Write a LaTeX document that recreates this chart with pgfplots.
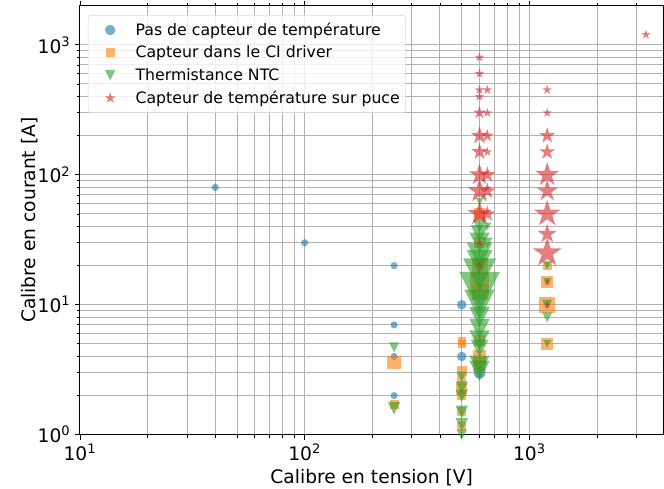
\documentclass[border=0pt]{standalone}
\usepackage{fontspec}
\setmainfont{DejaVu Sans}
\usepackage{pgfplots}
\pgfplotsset{compat=1.18}
\definecolor{c1}{HTML}{1F77B4}
\definecolor{c2}{HTML}{FF7F0E}
\definecolor{c3}{HTML}{2CA02C}
\definecolor{c4}{HTML}{D62728}
\definecolor{gridc}{rgb}{0.70,0.70,0.70}
\pgfdeclareplotmark{mcirc}{\pgfpathcircle{\pgfpointorigin}{\pgfplotmarksize}\pgfusepathqfill}
\pgfdeclareplotmark{msq}{\pgfpathrectangle{\pgfqpoint{-\pgfplotmarksize}{-\pgfplotmarksize}}{\pgfqpoint{2\pgfplotmarksize}{2\pgfplotmarksize}}\pgfusepathqfill}
\pgfdeclareplotmark{mtri}{\pgfpathmoveto{\pgfqpoint{0pt}{-\pgfplotmarksize}}\pgfpathlineto{\pgfqpoint{-\pgfplotmarksize}{\pgfplotmarksize}}\pgfpathlineto{\pgfqpoint{\pgfplotmarksize}{\pgfplotmarksize}}\pgfpathclose\pgfusepathqfill}
\pgfdeclareplotmark{mstar}{%
  \pgfpathmoveto{\pgfpointpolar{90}{\pgfplotmarksize}}%
  \pgfpathlineto{\pgfpointpolar{126}{0.382\pgfplotmarksize}}%
  \pgfpathlineto{\pgfpointpolar{162}{\pgfplotmarksize}}%
  \pgfpathlineto{\pgfpointpolar{198}{0.382\pgfplotmarksize}}%
  \pgfpathlineto{\pgfpointpolar{234}{\pgfplotmarksize}}%
  \pgfpathlineto{\pgfpointpolar{270}{0.382\pgfplotmarksize}}%
  \pgfpathlineto{\pgfpointpolar{306}{\pgfplotmarksize}}%
  \pgfpathlineto{\pgfpointpolar{342}{0.382\pgfplotmarksize}}%
  \pgfpathlineto{\pgfpointpolar{18}{\pgfplotmarksize}}%
  \pgfpathlineto{\pgfpointpolar{54}{0.382\pgfplotmarksize}}%
  \pgfpathclose\pgfusepathqfill}
\pgfplotsset{
  bub/.style n args={3}{only marks, scatter, forget plot, mark=#1,
    point meta={\thisrow{r}},
    visualization depends on={#3*\thisrow{r} \as \rr},
    scatter/use mapped color={draw=#2, fill=#2, fill opacity=0.6, draw opacity=0.6},
    scatter/@pre marker code/.append style={/tikz/mark size=\rr pt},
  },
}
\begin{document}
\begin{tikzpicture}
\begin{axis}[
  at={(0,0)}, anchor=south west,
  xmode=log, ymode=log,
  scale only axis, width=438pt, height=322pt,
  xmin=10, xmax=3950, ymin=1, ymax=2000,
  xtick={10,100,1000},
  xticklabels={10\textsuperscript{1},10\textsuperscript{2},10\textsuperscript{3}},
  ytick={1,10,100,1000},
  yticklabels={10\textsuperscript{0},10\textsuperscript{1},10\textsuperscript{2},10\textsuperscript{3}},
  minor xtick={20,30,40,50,60,70,80,90,200,300,400,500,600,700,800,900,2000,3000},
  minor ytick={2,3,4,5,6,7,8,9,20,30,40,50,60,70,80,90,200,300,400,500,600,700,800,900},
  grid=both,
  major grid style={gridc, line width=0.75pt},
  minor grid style={gridc, line width=0.75pt},
  tick align=outside,
  major tick length=3.6pt, minor tick length=2.1pt,
  tick style={black, line width=0.6pt},
  axis line style={black, line width=0.8pt},
  ticklabel style={font=\fontsize{14}{16}\selectfont},
  label style={font=\fontsize{14}{17}\selectfont},
  xlabel={Calibre en tension [V]},
  ylabel={Calibre en courant [A]},
  xlabel style={at={(axis description cs:0.5,-0.0994)}, anchor=center},
  ylabel style={at={(axis description cs:-0.0858,0.5)}, anchor=center},
  legend cell align=left,
  legend image code/.code={\path[draw=none,fill=none,sharp corners] (0cm,-0.1cm) rectangle (1.1cm,0.1cm); \draw[#1] plot coordinates {(0.5cm,0cm)};},
  legend style={at={(axis description cs:0.0137,0.978)}, anchor=north west, draw=gray!30, rounded corners=2pt,
    fill=white, fill opacity=0.8, text opacity=1, inner xsep=2.3pt, inner ysep=3.5pt,
    row sep=2.4pt, font=\fontsize{11.8}{14}\selectfont},
]
\addlegendimage{only marks, mark=mcirc, mark size=3.9pt, color=c1, mark options={fill=c1, fill opacity=0.6}}
\addlegendentry{Pas de capteur de température}
\addlegendimage{only marks, mark=msq, mark size=3.5pt, color=c2, mark options={fill=c2, fill opacity=0.6}}
\addlegendentry{Capteur dans le CI driver}
\addlegendimage{only marks, mark=mtri, mark size=3.8pt, color=c3, mark options={fill=c3, fill opacity=0.6}}
\addlegendentry{Thermistance NTC}
\addlegendimage{only marks, mark=mstar, mark size=4.4pt, color=c4, mark options={fill=c4, fill opacity=0.6}}
\addlegendentry{Capteur de température sur puce}

\addplot[bub={mcirc}{c1}{0.9}] table {
x y r
40 80 3
100 30 3
250 20 3
250 7 3
250 4 3
250 2 3
500 10 4
500 4 4
600 3 5
};
\addplot[bub={msq}{c2}{0.86}] table {
x y r
250 3.6 6
250 1.7 4
500 5.3 3.5
500 5 3.5
500 3.1 4.5
500 2.6 4
500 2.2 5
500 2.0 4
500 1.5 4
500 1.15 4
600 50 5
600 30 5
600 20 7
600 15 8
600 12.5 7
600 5.3 5
600 4 6
600 3.5 6
1200 20 4
1200 15 5
1200 10 7
1200 5 5
};
\addplot[bub={mtri}{c3}{0.95}] table {
x y r
250 4.7 4
250 1.6 5
500 2.8 4
500 2.3 5
500 2.0 5
500 1.5 5
500 1.2 5
500 1.0 4
600 62 3
600 40 5
600 35 7
600 30 8
600 24 10
600 21 10
600 17 13
600 12.5 16
600 10 12
600 8 8
600 6.5 8
600 5.3 8
600 4.6 7
600 3.4 8
600 3.1 8
650 40 3
650 30 4
1200 20 3
1200 15 3
1200 10 4
1200 8 4
1200 5 3
};
\addplot[bub={mstar}{c4}{1.0}] table {
x y r
600 800 3.7
600 600 3.7
600 450 3.7
600 400 3.7
600 300 5
600 200 7
600 150 6.5
600 100 8.5
600 75 9.5
600 50 9.5
600 30 3
600 20 3
650 450 3.7
650 300 3.7
650 200 5
650 150 3.7
650 100 6.3
650 75 6.3
650 50 6.3
1200 450 3.7
1200 300 3.7
1200 200 6.3
1200 150 6.3
1200 100 9.5
1200 75 8.5
1200 50 10.5
1200 35 7.5
1200 25 11.5
1200 15 3
1200 10 3
3300 1200 3.7
};
\end{axis}
\pgfresetboundingbox
\path[use as bounding box] (-60pt,-40.5pt) rectangle (438.4pt,326.3pt);
\end{tikzpicture}
\end{document}
